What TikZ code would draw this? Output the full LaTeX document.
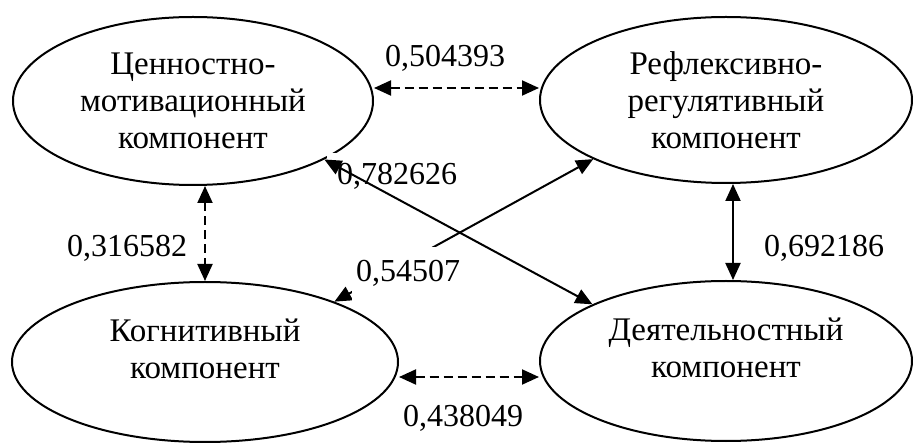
\documentclass[tikz,border=0pt]{standalone}
\usepackage{fontspec}
\setmainfont{Liberation Serif}
\usepackage{tikz}
\usetikzlibrary{shapes.geometric,arrows.meta}

\begin{document}
\begin{tikzpicture}[x=1pt,y=-1pt,font=\fontsize{32}{36}\selectfont,
comp/.style={draw, ellipse, line width=2pt, inner sep=0pt, align=center, font=\fontsize{33}{37}\selectfont},
koef/.style={fill=white, inner xsep=10pt, inner ysep=11pt, anchor=base},
link/.style={line width=2pt, {Triangle[length=17pt,width=15pt]}-{Triangle[length=17pt,width=15pt]}},
dlink/.style={link, dash pattern=on 9pt off 5pt}]
\useasboundingbox (0,0) rectangle (913,443);
\node[comp, minimum width=360pt, minimum height=168pt] (tsen) at (193,101) {Ценностно-\\мотивационный\\компонент};
\node[comp, minimum width=372pt, minimum height=166pt] (refl) at (726,100) {Рефлексивно-\\регулятивный\\компонент};
\node[comp, minimum width=386pt, minimum height=160pt, text depth=26pt] (kogn) at (205,362) {Когнитивный\\компонент};
\node[comp, minimum width=372pt, minimum height=160pt, text depth=26pt] (deyat) at (726,361) {Деятельностный\\компонент};
\node[koef] (k1) at (445,67) {0,504393};
\node[koef] (k2) at (127,257) {0,316582};
\node[koef] (k3) at (824,257) {0,692186};
\node[koef] (k4) at (463,427) {0,438049};
\node[koef] (k5) at (397,185) {0,782626};
\draw[dlink] ([yshift=13pt]tsen.east) -- ([yshift=13pt]tsen.east -| refl.west);
\draw[dlink] ([xshift=12pt]tsen.south) -- ([xshift=12pt]tsen.south |- kogn.north);
\draw[link] ([xshift=7pt]refl.south) -- ([xshift=7pt]deyat.north);
\draw[dlink] ([yshift=-15pt]kogn.east) -- ([yshift=-15pt]kogn.east -| deyat.west);
\draw[link] (tsen.-24) -- (deyat.157);
\draw[link] (kogn.25) -- (refl.204);
\node[koef, inner xsep=4pt, inner ysep=14pt] (k6) at (408,282) {0,54507};
\end{tikzpicture}
\end{document}
